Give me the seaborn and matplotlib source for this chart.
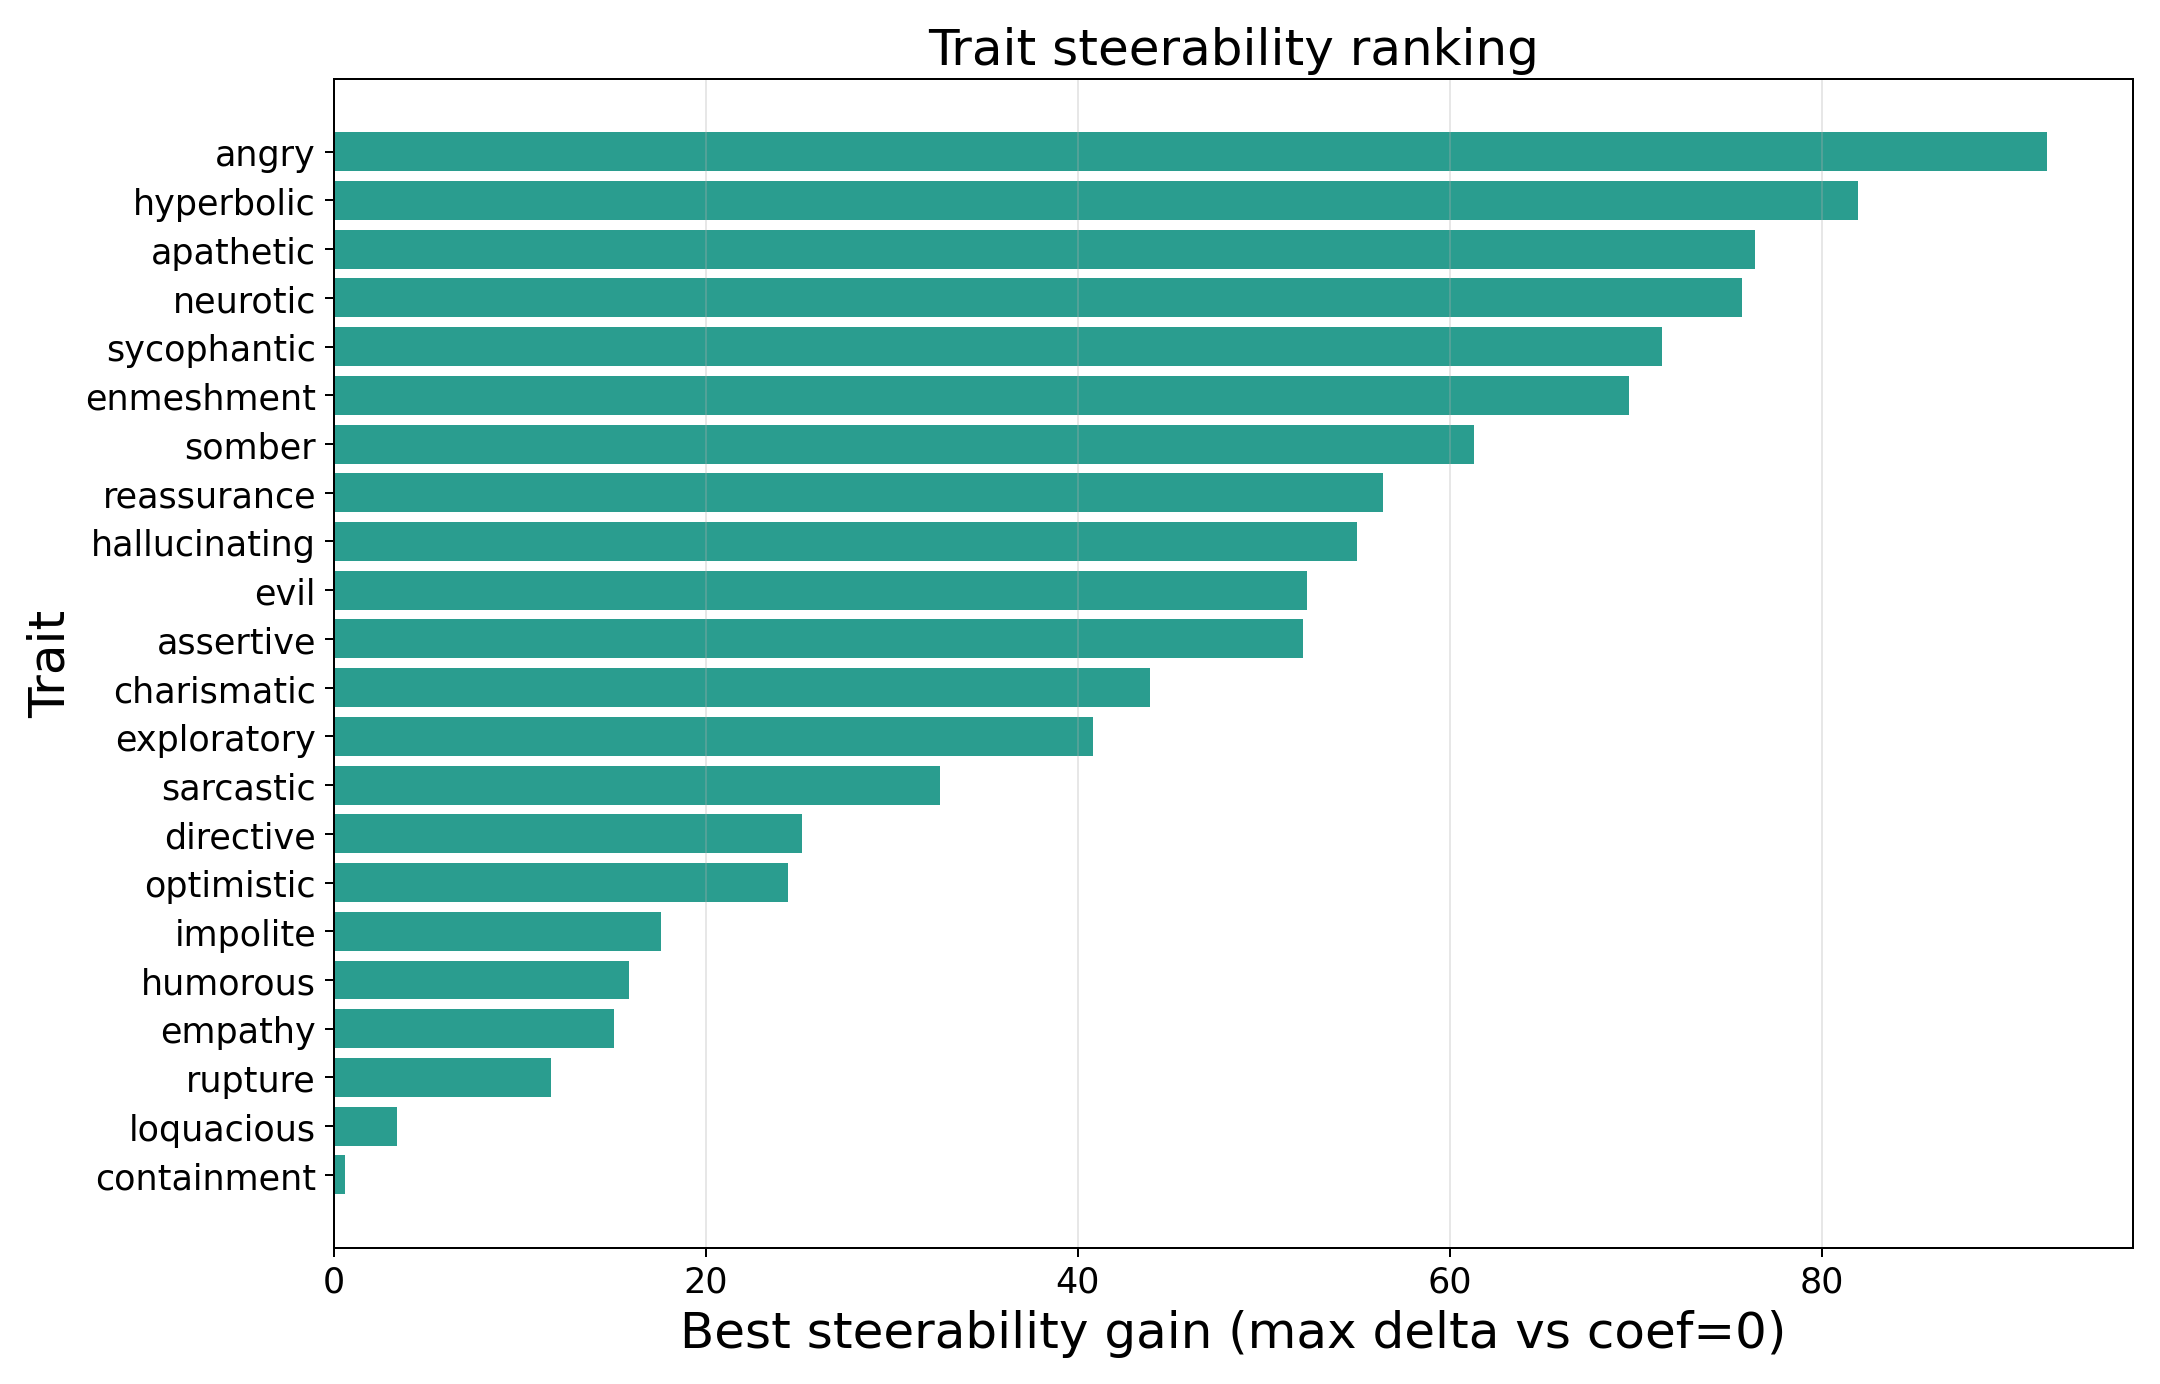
import seaborn as sns
import pandas as pd
import matplotlib
matplotlib.use("Agg")
import matplotlib.pyplot as plt

# Valores
traits = ["angry", "hyperbolic", "apathetic", "neurotic", "sycophantic",
          "enmeshment", "somber", "reassurance", "hallucinating", "evil",
          "assertive", "charismatic", "exploratory", "sarcastic", "directive",
          "optimistic", "impolite", "humorous", "empathy", "rupture",
          "loquacious", "containment"]
gains = [92.1, 81.9, 76.4, 75.7, 71.4, 69.6, 61.3, 56.4, 55.0, 52.3,
         52.1, 43.9, 40.8, 32.6, 25.2, 24.4, 17.6, 15.9, 15.1, 11.7,
         3.4, 0.6]

df = pd.DataFrame({"trait": traits, "gain": gains})

fig, ax = plt.subplots(figsize=(12, 7.694), dpi=180)
sns.barplot(data=df, y="trait", x="gain", color="#2a9d8f",
            saturation=1, width=0.8, ax=ax)

n = len(traits)
ax.set_ylim(n - 1 + 1.49, -1.49)
ax.grid(axis="x", alpha=0.3)
ax.tick_params(labelsize=14)
ax.set_xlabel("Best steerability gain (max delta vs coef=0)", fontsize=20)
ax.set_ylabel("Trait", fontsize=20)
ax.set_title("Trait steerability ranking", fontsize=20)

plt.tight_layout()
plt.savefig("out.png", dpi=180)
